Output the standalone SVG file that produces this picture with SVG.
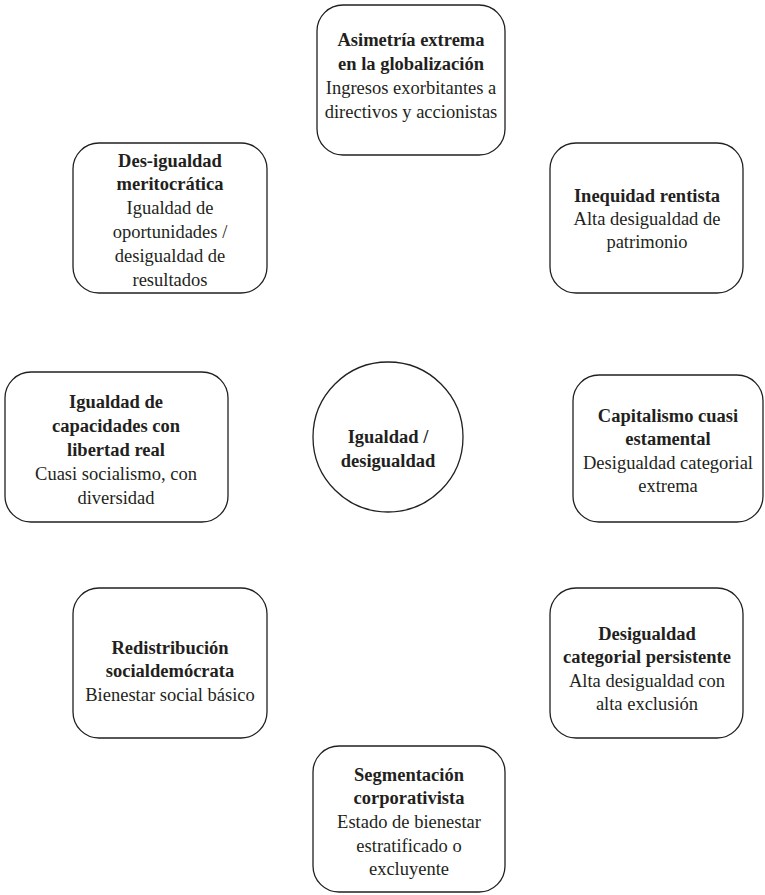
<svg xmlns="http://www.w3.org/2000/svg" width="765" height="895" viewBox="0 0 765 895">
<style>
.box{fill:#fff;stroke:#231f20;stroke-width:1.3}
text{font-family:"Liberation Serif","Times New Roman",serif;font-size:18.5px;fill:#231f20;text-anchor:middle}
.b{font-weight:bold}
</style>
<rect width="765" height="895" fill="#fff"/>
<g id="connectors"></g>
<g id="n-asimetria">
<rect class="box" x="317" y="5" width="188" height="150" rx="26"/>
<text x="411" y="46" class="b">Asimetría extrema</text>
<text x="411" y="70" class="b">en la globalización</text>
<text x="411" y="94">Ingresos exorbitantes a</text>
<text x="411" y="118">directivos y accionistas</text>
</g>
<g id="n-desigualdad-meritocratica">
<rect class="box" x="73" y="143" width="194" height="150" rx="26"/>
<text x="170" y="167" class="b">Des-igualdad</text>
<text x="170" y="190" class="b">meritocrática</text>
<text x="170" y="214">Igualdad de</text>
<text x="170" y="238">oportunidades /</text>
<text x="170" y="262">desigualdad de</text>
<text x="170" y="286">resultados</text>
</g>
<g id="n-inequidad">
<rect class="box" x="550" y="143" width="193" height="150" rx="26"/>
<text x="647" y="202" class="b">Inequidad rentista</text>
<text x="647" y="225">Alta desigualdad de</text>
<text x="647" y="248">patrimonio</text>
</g>
<g id="n-capacidades">
<rect class="box" x="5" y="372" width="223" height="150" rx="26"/>
<text x="116" y="408" class="b">Igualdad de</text>
<text x="116" y="432" class="b">capacidades con</text>
<text x="116" y="456" class="b">libertad real</text>
<text x="116" y="480">Cuasi socialismo, con</text>
<text x="116" y="504">diversidad</text>
</g>
<g id="n-centro">
<circle class="box" cx="388" cy="437" r="75"/>
<text x="388" y="443" class="b">Igualdad /</text>
<text x="388" y="467" class="b">desigualdad</text>
</g>
<g id="n-capitalismo">
<rect class="box" x="573" y="375" width="190" height="147" rx="26"/>
<text x="668" y="422" class="b">Capitalismo cuasi</text>
<text x="668" y="445" class="b">estamental</text>
<text x="668" y="469">Desigualdad categorial</text>
<text x="668" y="492">extrema</text>
</g>
<g id="n-redistribucion">
<rect class="box" x="73" y="588" width="194" height="150" rx="26"/>
<text x="170" y="654" class="b">Redistribución</text>
<text x="170" y="677" class="b">socialdemócrata</text>
<text x="170" y="701">Bienestar social básico</text>
</g>
<g id="n-categorial">
<rect class="box" x="550" y="588" width="193" height="150" rx="26"/>
<text x="647" y="640" class="b">Desigualdad</text>
<text x="647" y="663" class="b">categorial persistente</text>
<text x="647" y="687">Alta desigualdad con</text>
<text x="647" y="710">alta exclusión</text>
</g>
<g id="n-segmentacion">
<rect class="box" x="313" y="746" width="192" height="146" rx="26"/>
<text x="409" y="781" class="b">Segmentación</text>
<text x="409" y="804" class="b">corporativista</text>
<text x="409" y="828">Estado de bienestar</text>
<text x="409" y="852">estratificado o</text>
<text x="409" y="875">excluyente</text>
</g>
</svg>
